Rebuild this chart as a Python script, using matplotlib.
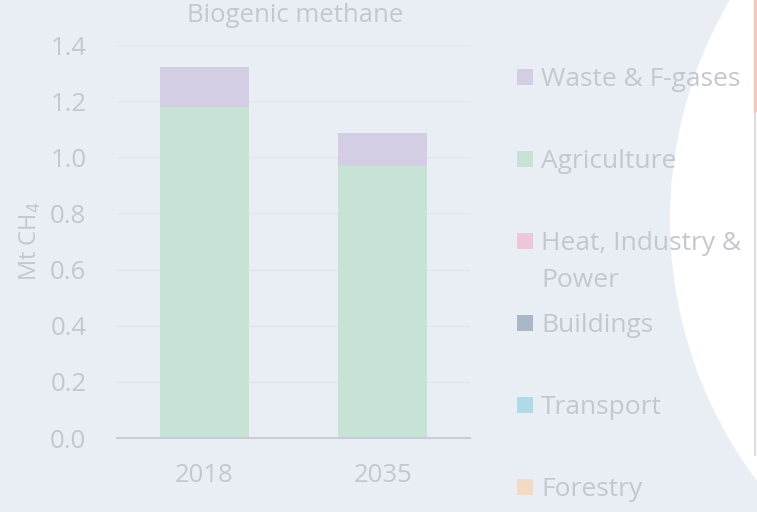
import matplotlib
matplotlib.use("Agg")
import matplotlib.pyplot as plt
from matplotlib.patches import Ellipse, Rectangle
import numpy as np

plt.rcParams['font.family'] = ['Open Sans', 'DejaVu Sans']

years = ['2018', '2035']
agriculture = [1.18, 0.97]
waste = [0.14, 0.115]

legend_labels = ['Waste & F-gases', 'Agriculture', 'Heat, Industry &\nPower',
                 'Buildings', 'Transport', 'Forestry']
legend_colors = ['#d3cee4', '#c6e3d6', '#efc5d7', '#a9b8c8', '#aedbe8', '#f2dac3']

text_color = '#c3c7cf'
bg_color = '#e9eef5'

fig = plt.figure(figsize=(7.57, 5.12), dpi=100)
fig.patch.set_facecolor(bg_color)

# white curved panel on the right
fig.patches.append(Ellipse((1105 / 757, 1 - 220 / 512), 870 / 757, 870 / 512,
                           transform=fig.transFigure, facecolor='white',
                           edgecolor='none', zorder=0))
fig.lines.append(plt.Line2D([755 / 757, 755 / 757], [1 - 455 / 512, 1 - 110 / 512],
                            transform=fig.transFigure, color='#dcdde0', lw=1.5))
fig.lines.append(plt.Line2D([755 / 757, 755 / 757], [1 - 110 / 512, 1.0],
                            transform=fig.transFigure, color='#f2c9b8', lw=2.5))

ax = fig.add_axes([117 / 757, 74 / 512, (470 - 117) / 757, (438 - 45) / 512])
ax.set_facecolor('none')

x = np.arange(len(years))
ax.bar(x, agriculture, width=0.5, color=legend_colors[1], zorder=2)
ax.bar(x, waste, width=0.5, bottom=agriculture, color=legend_colors[0], zorder=2)

ax.set_xlim(-0.49, 1.49)
ax.set_ylim(0, 1.4)
ax.set_yticks(np.arange(0, 1.41, 0.2))
ax.set_yticklabels([f'{v:.1f}' for v in np.arange(0, 1.41, 0.2)])
ax.set_xticks(x)
ax.set_xticklabels(years)
ax.tick_params(axis='both', length=0, labelsize=18.5, colors=text_color)
ax.tick_params(axis='y', pad=22)
ax.tick_params(axis='x', pad=18)
ax.grid(axis='y', color='#e1e6ed', lw=1, zorder=0)
for side in ['top', 'right', 'left']:
    ax.spines[side].set_visible(False)
ax.spines['bottom'].set_color('#c9ced6')
ax.spines['bottom'].set_linewidth(1.5)

ax.set_ylabel('Mt CH$_4$', fontsize=17, color=text_color, labelpad=5)
fig.text(295 / 757, 1 - 15 / 512, 'Biogenic methane', ha='center', va='center',
         fontsize=18.5, color=text_color)

# legend, drawn manually to keep even spacing
for i, (lab, col) in enumerate(zip(legend_labels, legend_colors)):
    yc = 77 + i * 82
    fig.patches.append(Rectangle((517 / 757, 1 - (yc + 8) / 512), 16 / 757, 16 / 512,
                                 transform=fig.transFigure, facecolor=col,
                                 edgecolor='none'))
    for j, line in enumerate(lab.split('\n')):
        fig.text(541 / 757, 1 - (yc + 9 + 37 * j) / 512, line, ha='left',
                 va='baseline', fontsize=19, color=text_color)

fig.savefig('out.png', dpi=100, facecolor=fig.get_facecolor())
